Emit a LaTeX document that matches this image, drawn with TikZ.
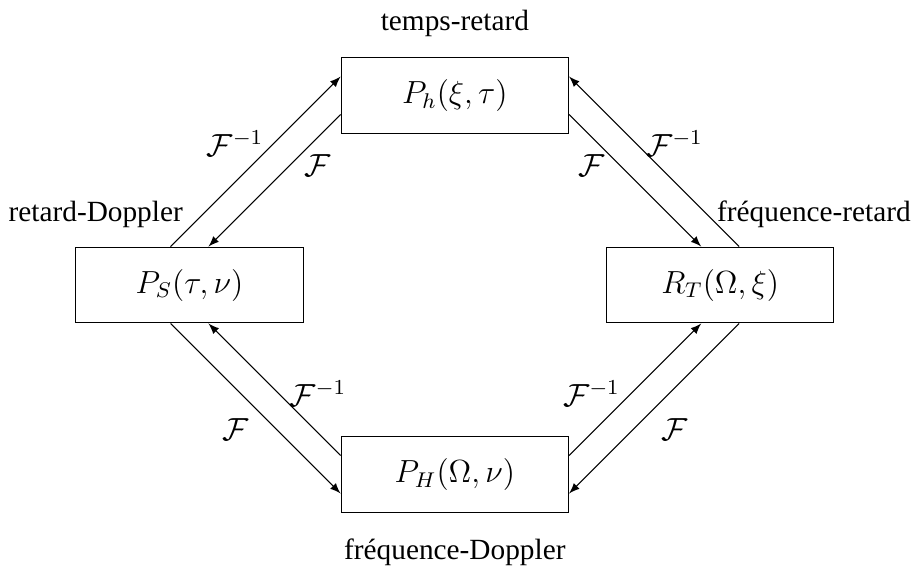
\documentclass[tikz,border=0pt,12pt]{standalone}
\usepackage{fontspec}
\setmainfont{Liberation Serif}
\usetikzlibrary{positioning}
\tikzset{
  domaine/.style={draw, minimum width=3cm, minimum height=1cm},
  nomdomaine/.style={font=\fontsize{11}{13}\selectfont},
  fleche/.style={-latex},
}
\newcommand{\four}{$\mathcal{F}$}
\newcommand{\fourinv}{$\mathcal{F}^{-1}$}

\begin{document}
\begin{tikzpicture}
\useasboundingbox (-6.0,-3.73) rectangle (6.03,3.76);
\node[domaine] (ph) at (0,2.5) {$P_h(\xi,\tau)$};
\node[domaine] (ps) at (-3.5,0) {$P_S(\tau,\nu)$};
\node[domaine] (rt) at (3.5,0) {$R_T(\Omega,\xi)$};
\node[domaine] (pH) at (0,-2.5) {$P_H(\Omega,\nu)$};
% noms des domaines
\node[nomdomaine, above=0.12cm of ph] (tr) {temps-retard};
\node[nomdomaine, above=0.1cm of ps.north west, xshift=0.27cm] (rd) {retard-Doppler};
\node[nomdomaine, above=0.1cm of rt.north east, xshift=-0.27cm] (fr) {fréquence-retard};
\node[nomdomaine, below=0.2cm of pH] (fd) {fréquence-Doppler};
% transformations
\draw[fleche] ([xshift=-0.25cm]ps.north) -- node[midway, xshift=-0.27cm, yshift=0.235cm] (f1) {\fourinv} ([yshift=0.25cm]ph.west);
\draw[fleche] ([yshift=-0.25cm]ph.west) -- node[pos=0.28, xshift=0.19cm, yshift=-0.19cm] (f2) {\four} ([xshift=0.25cm]ps.north);
\draw[fleche] ([xshift=0.25cm]rt.north) -- node[midway, xshift=0.27cm, yshift=0.235cm] (f3) {\fourinv} ([yshift=0.25cm]ph.east);
\draw[fleche] ([yshift=-0.25cm]ph.east) -- node[pos=0.28, xshift=-0.19cm, yshift=-0.19cm] (f4) {\four} ([xshift=-0.25cm]rt.north);
\draw[fleche] ([yshift=0.25cm]pH.west) -- node[pos=0.32, xshift=0.26cm, yshift=0.26cm] (f5) {\fourinv} ([xshift=0.25cm]ps.south);
\draw[fleche] ([xshift=-0.25cm]ps.south) -- node[midway, xshift=-0.265cm, yshift=-0.275cm] (f6) {\four} ([yshift=-0.25cm]pH.west);
\draw[fleche] ([yshift=0.25cm]pH.east) -- node[pos=0.32, xshift=-0.26cm, yshift=0.26cm] (f7) {\fourinv} ([xshift=-0.25cm]rt.south);
\draw[fleche] ([xshift=0.25cm]rt.south) -- node[midway, xshift=0.265cm, yshift=-0.275cm] (f8) {\four} ([yshift=-0.25cm]pH.east);
\end{tikzpicture}
\end{document}
